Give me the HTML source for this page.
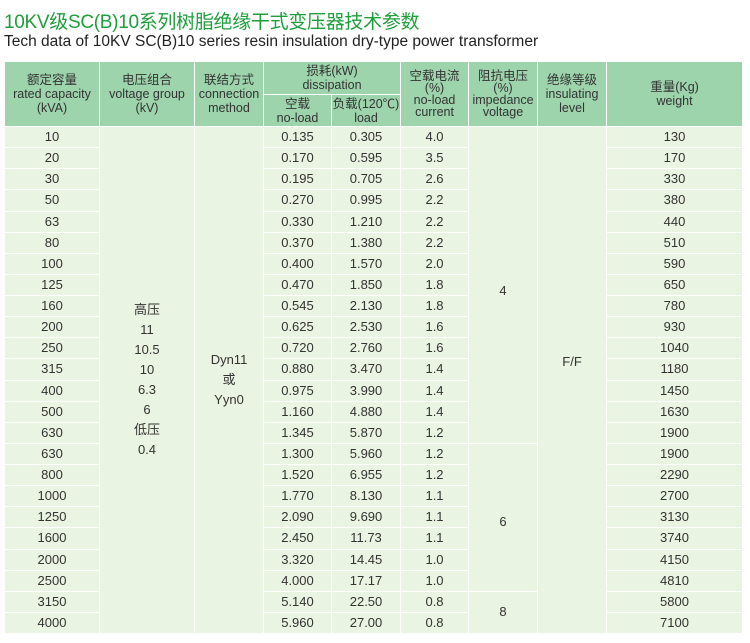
<!DOCTYPE html>
<html><head><meta charset="utf-8"><style>
body{margin:0;width:750px;height:643px;background:#fff;font-family:"Liberation Sans","Noto Sans CJK SC",sans-serif;position:relative;overflow:hidden}
.t1{position:absolute;left:4px;top:7px;font-size:19px;color:#1f9e3c;white-space:nowrap;letter-spacing:-0.3px}
.t2{position:absolute;left:4px;top:33px;font-size:15.5px;color:#222;white-space:nowrap}
table{position:absolute;left:4px;top:61px;border-collapse:collapse;table-layout:fixed;width:738px}
td{border:1px solid #fff;padding:0;text-align:center;color:#333;font-size:13px;overflow:hidden}
thead td{background:#9dd4ac;line-height:14px;font-size:12.5px;color:#333}
tbody td{background:#eaf4e2;height:20.125px;line-height:20px}
.big{vertical-align:middle;line-height:20px}
</style></head><body>
<div class="t1">10KV级SC(B)10系列树脂绝缘干式变压器技术参数</div>
<div class="t2">Tech data of 10KV SC(B)10 series resin insulation dry-type power transformer</div>
<table>
<colgroup><col style="width:95px"><col style="width:95px"><col style="width:69px"><col style="width:68px"><col style="width:69px"><col style="width:68px"><col style="width:69px"><col style="width:69px"><col style="width:136px"></colgroup>
<thead>
<tr style="height:33px"><td rowspan="2">额定容量<br>rated capacity<br>(kVA)</td><td rowspan="2">电压组合<br>voltage group<br>(kV)</td><td rowspan="2">联结方式<br>connection<br>method</td><td colspan="2">损耗(kW)<br>dissipation</td><td rowspan="2" style="line-height:12px">空载电流<br>(%)<br>no-load<br>current</td><td rowspan="2" style="line-height:12px">阻抗电压<br>(%)<br>impedance<br>voltage</td><td rowspan="2">绝缘等级<br>insulating<br>level</td><td rowspan="2">重量(Kg)<br>weight</td></tr>
<tr style="height:32px"><td>空载<br>no-load</td><td>负载(120℃)<br>load</td></tr>
</thead>
<tbody>
<tr><td>10</td><td rowspan="24" class="big" style="padding-bottom:0px">高压<br>11<br>10.5<br>10<br>6.3<br>6<br>低压<br>0.4</td><td rowspan="24" class="big">Dyn11<br>或<br>Yyn0</td><td>0.135</td><td>0.305</td><td>4.0</td><td rowspan="15" style="padding-top:12px">4</td><td rowspan="24" style="padding-bottom:36px">F/F</td><td>130</td></tr>
<tr><td>20</td><td>0.170</td><td>0.595</td><td>3.5</td><td>170</td></tr>
<tr><td>30</td><td>0.195</td><td>0.705</td><td>2.6</td><td>330</td></tr>
<tr><td>50</td><td>0.270</td><td>0.995</td><td>2.2</td><td>380</td></tr>
<tr><td>63</td><td>0.330</td><td>1.210</td><td>2.2</td><td>440</td></tr>
<tr><td>80</td><td>0.370</td><td>1.380</td><td>2.2</td><td>510</td></tr>
<tr><td>100</td><td>0.400</td><td>1.570</td><td>2.0</td><td>590</td></tr>
<tr><td>125</td><td>0.470</td><td>1.850</td><td>1.8</td><td>650</td></tr>
<tr><td>160</td><td>0.545</td><td>2.130</td><td>1.8</td><td>780</td></tr>
<tr><td>200</td><td>0.625</td><td>2.530</td><td>1.6</td><td>930</td></tr>
<tr><td>250</td><td>0.720</td><td>2.760</td><td>1.6</td><td>1040</td></tr>
<tr><td>315</td><td>0.880</td><td>3.470</td><td>1.4</td><td>1180</td></tr>
<tr><td>400</td><td>0.975</td><td>3.990</td><td>1.4</td><td>1450</td></tr>
<tr><td>500</td><td>1.160</td><td>4.880</td><td>1.4</td><td>1630</td></tr>
<tr><td>630</td><td>1.345</td><td>5.870</td><td>1.2</td><td>1900</td></tr>
<tr><td>630</td><td>1.300</td><td>5.960</td><td>1.2</td><td rowspan="7" style="padding-top:10px">6</td><td>1900</td></tr>
<tr><td>800</td><td>1.520</td><td>6.955</td><td>1.2</td><td>2290</td></tr>
<tr><td>1000</td><td>1.770</td><td>8.130</td><td>1.1</td><td>2700</td></tr>
<tr><td>1250</td><td>2.090</td><td>9.690</td><td>1.1</td><td>3130</td></tr>
<tr><td>1600</td><td>2.450</td><td>11.73</td><td>1.1</td><td>3740</td></tr>
<tr><td>2000</td><td>3.320</td><td>14.45</td><td>1.0</td><td>4150</td></tr>
<tr><td>2500</td><td>4.000</td><td>17.17</td><td>1.0</td><td>4810</td></tr>
<tr><td>3150</td><td>5.140</td><td>22.50</td><td>0.8</td><td rowspan="2">8</td><td>5800</td></tr>
<tr><td>4000</td><td>5.960</td><td>27.00</td><td>0.8</td><td>7100</td></tr>
</tbody></table>
</body></html>
